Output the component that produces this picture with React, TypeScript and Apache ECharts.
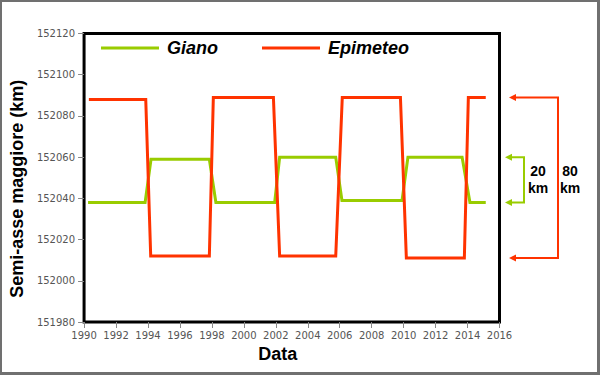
import React, { useEffect, useRef } from "react";
import * as echarts from "echarts";

const gianoYears = [1990.25, 1993.82, 1994.19, 1997.84, 1998.25, 2001.93, 2002.24, 2005.75, 2006.14, 2009.9, 2010.27, 2013.66, 2014.15, 2015.14];
const gianoValues = [152038, 152038, 152059, 152059, 152038, 152038, 152060, 152060, 152039, 152039, 152060, 152060, 152038, 152038];
const epimeteoYears = [1990.3, 1993.86, 1994.17, 1997.84, 1998.09, 2001.85, 2002.24, 2005.75, 2006.16, 2009.8, 2010.17, 2013.8, 2014.05, 2015.14];
const epimeteoValues = [152088, 152088, 152012, 152012, 152089, 152089, 152012, 152012, 152089, 152089, 152011, 152011, 152089, 152089];
const seriesNames = ["Giano", "Epimeteo"];
const rangeLabels = [["20", "km"], ["80", "km"]];
const xAxisName = "Data";
const yAxisName = "Semi-asse maggiore (km)";

const GREEN = "#99CC00";
const RED = "#FF3300";
const BOLD_FONT = "'Liberation Sans', Arial, sans-serif";
const TICK_FONT = "'DejaVu Sans', Verdana, sans-serif";

export default function App() {
  const ref = useRef<HTMLDivElement>(null);

  useEffect(() => {
    if (!ref.current) return;
    const chart = echarts.init(ref.current, undefined, { renderer: "svg" });
    const gianoData = gianoYears.map((y, i) => [y, gianoValues[i]]);
    const epiData = epimeteoYears.map((y, i) => [y, epimeteoValues[i]]);

    chart.setOption({
      animation: false,
      backgroundColor: "#fff",
      grid: {
        left: 77,
        right: 100.5,
        top: 33.5,
        bottom: 53,
        show: true,
        borderColor: "#000",
        borderWidth: 3,
        backgroundColor: "transparent",
      },
      legend: {
        left: 101,
        top: 39,
        padding: 0,
        itemWidth: 58,
        itemHeight: 3,
        itemGap: 44,
        icon: "rect",
        data: seriesNames,
        textStyle: {
          fontFamily: BOLD_FONT,
          fontSize: 18,
          fontWeight: "bold",
          fontStyle: "italic",
          color: "#000",
          padding: [0, 0, 0, 3],
        },
      },
      xAxis: {
        type: "value",
        min: 1990,
        max: 2016,
        interval: 2,
        name: xAxisName,
        nameLocation: "middle",
        nameGap: 20,
        nameTextStyle: {
          fontFamily: BOLD_FONT,
          fontSize: 18,
          fontWeight: "bold",
          color: "#000",
          padding: [0, 28, 0, 0],
        },
        axisLine: { show: false },
        axisTick: { show: true, length: 6, lineStyle: { color: "#888", width: 1 } },
        splitLine: { show: false },
        axisLabel: {
          fontFamily: TICK_FONT,
          fontSize: 10,
          color: "#555",
          margin: 8,
          formatter: (v: number) => String(v),
        },
      },
      yAxis: {
        type: "value",
        min: 151980,
        max: 152120,
        interval: 20,
        name: yAxisName,
        nameLocation: "middle",
        nameGap: 48,
        nameTextStyle: {
          fontFamily: BOLD_FONT,
          fontSize: 18,
          fontWeight: "bold",
          color: "#000",
          padding: [0, 22, 0, 0],
        },
        axisLine: { show: false },
        axisTick: { show: true, length: 6, lineStyle: { color: "#888", width: 1 } },
        splitLine: { show: false },
        axisLabel: {
          fontFamily: TICK_FONT,
          fontSize: 10,
          color: "#555",
          margin: 9,
          formatter: (v: number) => String(v),
        },
      },
      series: [
        {
          name: seriesNames[0],
          type: "line",
          data: gianoData,
          showSymbol: false,
          symbol: "none",
          lineStyle: { color: GREEN, width: 3, join: "miter" },
          itemStyle: { color: GREEN },
          z: 2,
        },
        {
          name: seriesNames[1],
          type: "line",
          data: epiData,
          showSymbol: false,
          symbol: "none",
          lineStyle: { color: RED, width: 3, join: "miter" },
          itemStyle: { color: RED },
          z: 3,
        },
      ],
    });

    const yPix = (v: number) => chart.convertToPixel({ yAxisIndex: 0 }, v) as number;
    const gTop = yPix(Math.max(...gianoValues));
    const gBot = yPix(Math.min(...gianoValues));
    const rTop = yPix(Math.max(...epimeteoValues));
    const rBot = yPix(Math.min(...epimeteoValues));

    const bracket = (tipX: number, vx: number, top: number, bot: number, color: string) => [
      {
        type: "polyline",
        shape: { points: [[tipX + 6, top], [vx, top], [vx, bot], [tipX + 6, bot]] },
        style: { stroke: color, lineWidth: 2, fill: null },
      },
      {
        type: "polygon",
        shape: { points: [[tipX, top], [tipX + 7, top - 3.5], [tipX + 7, top + 3.5]] },
        style: { fill: color },
      },
      {
        type: "polygon",
        shape: { points: [[tipX, bot], [tipX + 7, bot - 3.5], [tipX + 7, bot + 3.5]] },
        style: { fill: color },
      },
    ];
    const label = (x: number, y: number, t: string) => ({
      type: "text",
      x,
      y,
      style: {
        text: t,
        fontFamily: BOLD_FONT,
        fontSize: 14,
        fontWeight: "bold",
        fill: "#000",
        align: "center",
        verticalAlign: "middle",
      },
    });

    chart.setOption({
      graphic: [
        ...bracket(505, 524, gTop, gBot, GREEN),
        ...bracket(509, 558, rTop, rBot, RED),
        label(538, 171, rangeLabels[0][0]),
        label(538, 188, rangeLabels[0][1]),
        label(570, 171, rangeLabels[1][0]),
        label(570, 188, rangeLabels[1][1]),
      ],
    });

    return () => chart.dispose();
  }, []);

  return (
    <div style={{ position: "fixed", left: 0, top: 0, width: 600, height: 375, background: "#fff" }}>
      <div ref={ref} style={{ width: 600, height: 375 }} />
      <div
        style={{
          position: "absolute",
          left: 0,
          top: 0,
          width: 600,
          height: 375,
          boxSizing: "border-box",
          borderStyle: "solid",
          borderColor: "#707070",
          borderWidth: "2px 3px 3px 2px",
          pointerEvents: "none",
        }}
      />
    </div>
  );
}
